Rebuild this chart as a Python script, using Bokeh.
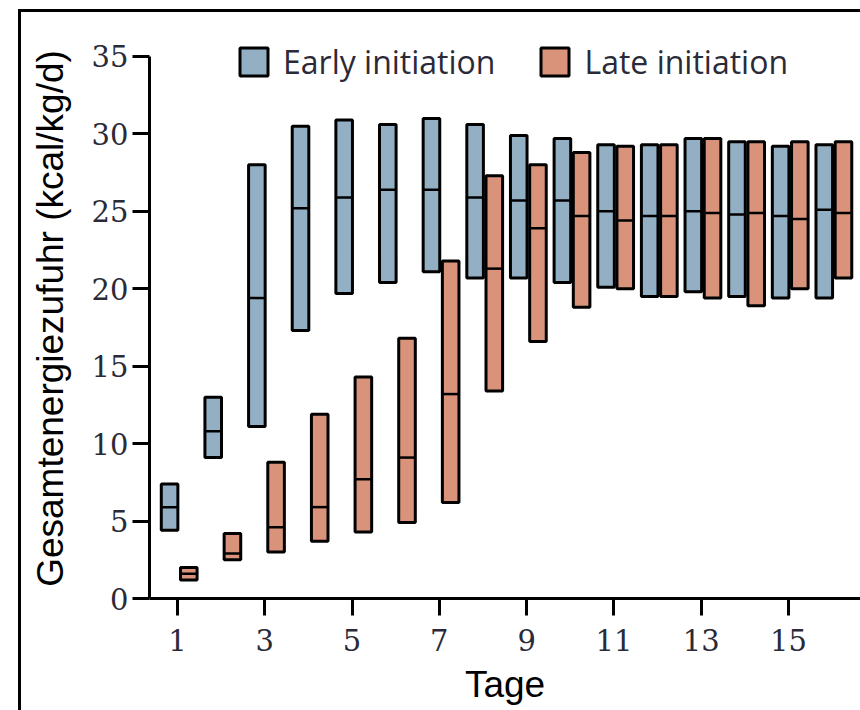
from bokeh.plotting import figure
from bokeh.models import Range1d, FixedTicker, ColumnDataSource, Legend, LegendItem
from bokeh.transform import dodge
from bokeh.embed import file_html
from bokeh.resources import INLINE

days = list(range(1, 17))
early_q1 = [4.4, 9.1, 11.1, 17.3, 19.7, 20.4, 21.1, 20.7, 20.7, 20.4, 20.1, 19.5, 19.8, 19.5, 19.4, 19.4]
early_med = [5.9, 10.8, 19.4, 25.2, 25.9, 26.4, 26.4, 25.9, 25.7, 25.7, 25.0, 24.7, 25.0, 24.8, 24.7, 25.1]
early_q3 = [7.4, 13.0, 28.0, 30.5, 30.9, 30.6, 31.0, 30.6, 29.9, 29.7, 29.3, 29.3, 29.7, 29.5, 29.2, 29.3]
late_q1 = [1.2, 2.5, 3.0, 3.7, 4.3, 4.9, 6.2, 13.4, 16.6, 18.8, 20.0, 19.5, 19.4, 18.9, 20.0, 20.7]
late_med = [1.6, 2.9, 4.6, 5.9, 7.7, 9.1, 13.2, 21.3, 23.9, 24.7, 24.4, 24.7, 24.9, 24.9, 24.5, 24.9]
late_q3 = [2.0, 4.2, 8.8, 11.9, 14.3, 16.8, 21.8, 27.3, 28.0, 28.8, 29.2, 29.3, 29.7, 29.5, 29.5, 29.5]
x_ticks = [1, 3, 5, 7, 9, 11, 13, 15]
y_ticks = [0, 5, 10, 15, 20, 25, 30, 35]
series_names = ["Early initiation", "Late initiation"]
early_color = "#92afc3"
late_color = "#d8937a"

src = ColumnDataSource(dict(day=days, eq1=early_q1, emed=early_med, eq3=early_q3,
                            lq1=late_q1, lmed=late_med, lq3=late_q3))

frame_css = {
    "background-image": "linear-gradient(#000,#000), linear-gradient(#000,#000)",
    "background-size": "3px 100%, 100% 3px",
    "background-position": "18px 9px, 18px 9px",
    "background-repeat": "no-repeat",
    "background-color": "white",
}

p = figure(width=860, height=710, output_backend="svg", toolbar_location=None,
           x_range=Range1d(0.36, 16.65), y_range=Range1d(0, 36.16),
           min_border_left=149, min_border_right=0, min_border_top=38, min_border_bottom=112,
           styles=frame_css)
p.background_fill_alpha = 0
p.border_fill_alpha = 0
p.outline_line_color = None
p.xgrid.visible = False
p.ygrid.visible = False

bw = 0.38
eo, lo = -0.18, 0.26
r1 = p.vbar(x=dodge("day", eo), width=bw, bottom="eq1", top="eq3", source=src,
            fill_color=early_color, line_color="black", line_width=3)
r2 = p.vbar(x=dodge("day", lo), width=bw, bottom="lq1", top="lq3", source=src,
            fill_color=late_color, line_color="black", line_width=3)
p.segment(x0=dodge("day", eo - bw / 2), x1=dodge("day", eo + bw / 2), y0="emed", y1="emed",
          source=src, line_color="black", line_width=2.5)
p.segment(x0=dodge("day", lo - bw / 2), x1=dodge("day", lo + bw / 2), y0="lmed", y1="lmed",
          source=src, line_color="black", line_width=2.5)

for ax in (p.xaxis[0], p.yaxis[0]):
    ax.axis_line_width = 3
    ax.axis_line_color = "black"
    ax.major_tick_line_width = 3
    ax.major_tick_line_color = "black"
    ax.major_tick_out = 17
    ax.major_tick_in = 0
    ax.minor_tick_line_color = None
    ax.major_label_text_font = "DejaVu Serif"
    ax.major_label_text_font_size = "29px"
    ax.major_label_text_color = "#2a2a38"
    ax.axis_label_text_font = "Liberation Sans"
    ax.axis_label_text_font_size = "37px"
    ax.axis_label_text_font_style = "normal"
    ax.axis_label_text_color = "black"

p.xaxis.ticker = FixedTicker(ticks=x_ticks)
p.yaxis.ticker = FixedTicker(ticks=y_ticks)
p.yaxis.bounds = (0, 35)
p.xaxis.axis_label = "Tage"
p.yaxis.axis_label = "Gesamtenergiezufuhr (kcal/kg/d)"
p.xaxis.major_label_standoff = 13
p.yaxis.major_label_standoff = 4
p.xaxis.axis_label_standoff = 10
p.yaxis.axis_label_standoff = 18

legend = Legend(items=[LegendItem(label=series_names[0], renderers=[r1]),
                       LegendItem(label=series_names[1], renderers=[r2])],
                orientation="horizontal", location=(87, 515),
                glyph_width=35, glyph_height=35, label_height=35,
                label_standoff=12, spacing=42, padding=0, margin=0,
                border_line_color=None, background_fill_alpha=0,
                label_text_font="Open Sans", label_text_font_size="32px",
                label_text_color="#2a2a38")
p.add_layout(legend, "center")

open("out.html", "w").write(file_html(p, INLINE))
